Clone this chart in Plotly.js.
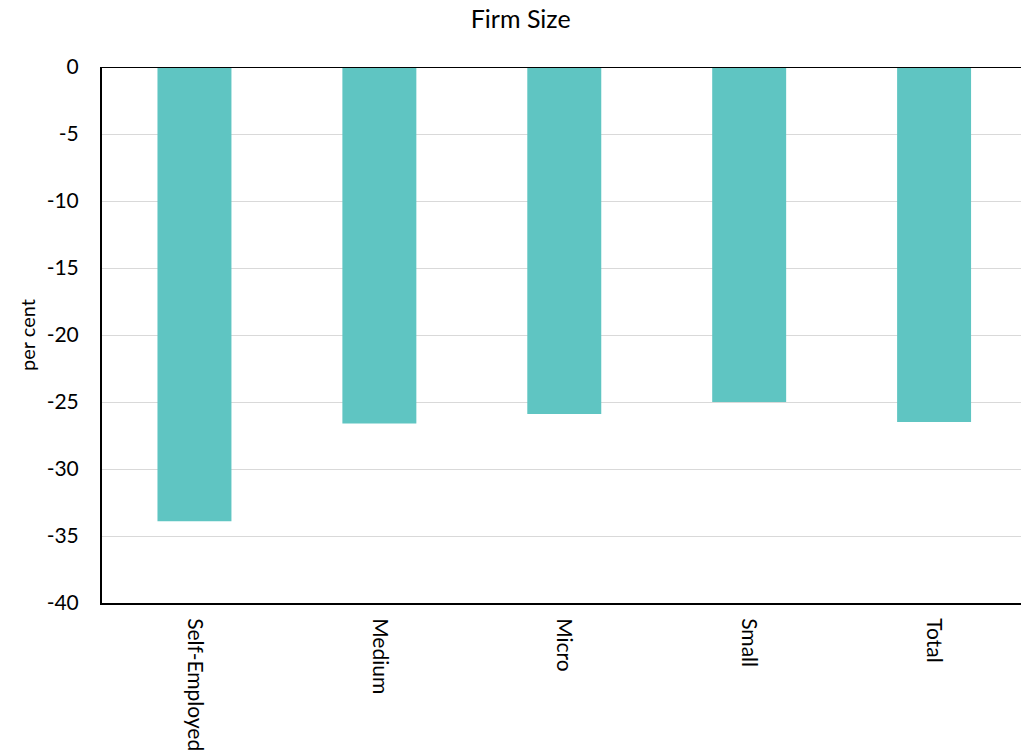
<!DOCTYPE html>
<html>
<head>
<meta charset="utf-8">
<script src="https://cdn.plot.ly/plotly-3.0.1.min.js"></script>
<style>html,body{margin:0;padding:0;background:#fff;}#chart{width:1021px;height:751px;}</style>
</head>
<body>
<div id="chart"></div>
<script>
const categories = ["Self-Employed", "Medium", "Micro", "Small", "Total"];
const values = [-33.9, -26.6, -25.9, -25.0, -26.5];
const yTicks = [0, -5, -10, -15, -20, -25, -30, -35, -40];

const trace = {
  type: "bar",
  x: categories,
  y: values,
  marker: {color: "#5FC5C2"},
  width: 0.4,
  hoverinfo: "x+y"
};

const layout = {
  width: 1021,
  height: 751,
  margin: {l: 102, r: 0, t: 67, b: 148},
  paper_bgcolor: "#fff",
  plot_bgcolor: "#fff",
  font: {family: "Lato, sans-serif", size: 21, color: "#000"},
  title: {text: "Firm Size", x: 0.51, xanchor: "center", y: 0.975, yanchor: "middle", font: {size: 25, family: "Lato, sans-serif"}},
  showlegend: false,
  xaxis: {
    type: "category",
    range: [-0.5, 4.47],
    tickangle: 90,
    showline: true, linecolor: "#000", linewidth: 2,
    mirror: false,
    showgrid: false,
    ticks: "",
    ticklabelstandoff: 9,
    tickfont: {size: 21},
    automargin: false
  },
  yaxis: {
    range: [-40, 0],
    tickvals: yTicks,
    ticktext: yTicks.map(String),
    showline: true, linecolor: "#000", linewidth: 2,
    showgrid: true, gridcolor: "#d9d9d9", gridwidth: 1,
    zeroline: false,
    ticks: "",
    ticklabelstandoff: 17,
    tickfont: {size: 21},
    title: {text: "per cent", font: {size: 20}, standoff: 6},
    automargin: false
  },
  shapes: [{
    type: "line", xref: "paper", yref: "y", x0: 0, x1: 1, y0: 0, y1: 0,
    line: {color: "#000", width: 2}
  }]
};

Plotly.newPlot("chart", [trace], layout, {displayModeBar: false, staticPlot: true});
</script>
</body>
</html>
